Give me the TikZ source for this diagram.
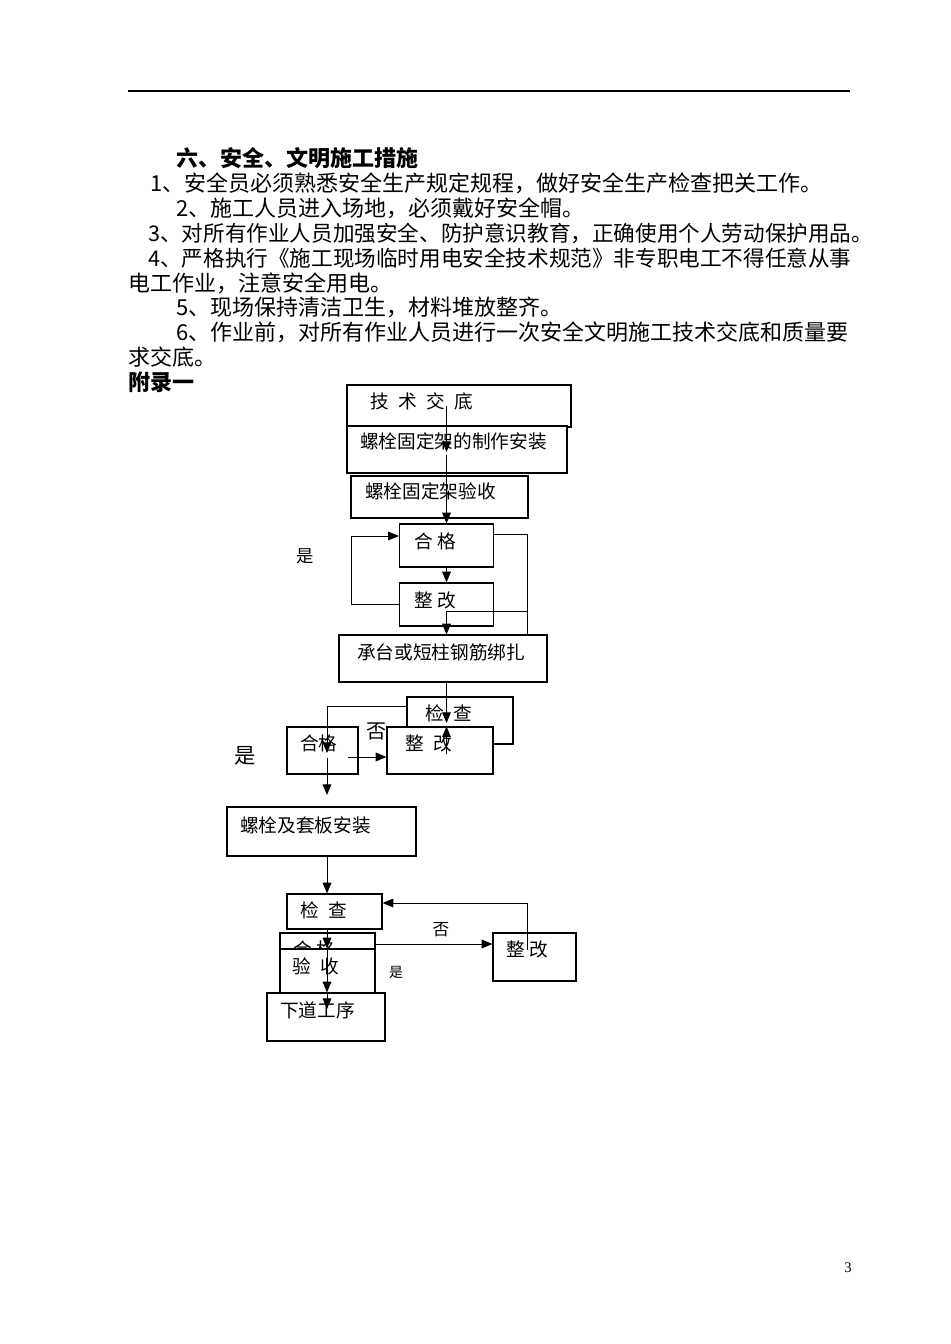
\documentclass[tikz,border=0pt]{standalone}
\usepackage{fontspec}
\setmainfont{Liberation Serif}
\newfontfamily\cjk{Noto Sans CJK SC}
\usetikzlibrary{arrows.meta}

\begin{document}
\begin{tikzpicture}[x=0.75pt,y=-0.75pt,
  box/.style={draw,line width=0.9pt,fill=white,inner sep=0pt},
  sz/.style 2 args={minimum width=#1*0.75pt,minimum height=#2*0.75pt},
  txt/.style={anchor=west,inner sep=0pt,font=\cjk\fontsize{14}{16}\selectfont},
  para/.style={anchor=west,inner sep=0pt,font=\cjk\fontsize{16.5}{18}\selectfont},
  lab/.style={inner sep=0pt,font=\cjk\fontsize{#1}{#1}\selectfont},
  arr/.style={line width=0.75pt,-{Triangle[length=8pt,width=6.5pt]}},
  ln/.style={line width=0.75pt}]

  \useasboundingbox[fill=white] (0,0) rectangle (950,1344);

  % header rule and text
  \draw[line width=1.1pt] (128,91) -- (850,91);
  \node[para] (title) at (176,158) {\bfseries 六、安全、文明施工措施};
  \node[para] (p1) at (150,183) {1、安全员必须熟悉安全生产规定规程，做好安全生产检查把关工作。};
  \node[para] (p2) at (176,208) {2、施工人员进入场地，必须戴好安全帽。};
  \node[para,font=\cjk\fontsize{16.2}{18}\selectfont] (p3) at (148,233) {3、对所有作业人员加强安全、防护意识教育，正确使用个人劳动保护用品。};
  \node[para,font=\cjk\fontsize{16.2}{18}\selectfont] (p4) at (148,258) {4、严格执行《施工现场临时用电安全技术规范》非专职电工不得任意从事};
  \node[para] (p4b) at (128,283) {电工作业，注意安全用电。};
  \node[para] (p5) at (176,307) {5、现场保持清洁卫生，材料堆放整齐。};
  \node[para] (p6) at (176,332) {6、作业前，对所有作业人员进行一次安全文明施工技术交底和质量要};
  \node[para] (p6b) at (128,357) {求交底。};
  \node[para] (fl) at (128,382) {\bfseries 附录一};

  % boxes
  \node[box,sz={224}{42}] (jsjd) at (459,406) {};
  \node[txt] (jsjdT) at (370,401) {技\enspace 术\enspace 交\enspace 底};
  \node[box,sz={220}{47}] (zzaz) at (457,449.5) {};
  \node[txt] (zzazT) at (360,441) {螺栓固定架的制作安装};
  \node[box,sz={177}{42}] (gdys) at (439.5,497) {};
  \node[txt] (gdysT) at (365,491) {螺栓固定架验收};
  \node[box,sz={94}{43}] (hg1) at (446.5,545.5) {};
  \node[txt] (hg1T) at (414,541) {合 格};
  \node[box,sz={94}{43}] (zg1) at (446.5,604.5) {};
  \node[txt] (zg1T) at (414,600) {整 改};
  \node[box,sz={208}{47}] (ct) at (443,658.5) {};
  \node[txt] (ctT) at (357,652) {承台或短柱钢筋绑扎};
  \node[box,sz={106}{47}] (jc2) at (460,720.5) {};
  \node[txt] (jc2T) at (425,713) {检\enspace 查};
  \node[box,sz={106}{47}] (zg2) at (440,750.5) {};
  \node[txt] (zg2T) at (405,743) {整\enspace 改};
  \node[box,sz={71}{47}] (hg2) at (322.5,750.5) {};
  \node[txt] (hg2T) at (300,743) {合格};
  \node[box,sz={189}{49}] (lsaz) at (321.5,831.5) {};
  \node[txt] (lsazT) at (240,825) {螺栓及套板安装};
  \node[box,sz={95}{35}] (jc3) at (334.5,911.5) {};
  \node[txt] (jc3T) at (300,910) {检\enspace 查};
  \node[box,sz={95}{47}] (hg3) at (327.5,956.5) {};
  \node[txt] (hg3T) at (293,949) {合 格};
  \node[box,sz={95}{44}] (ys) at (327.5,971) {};
  \node[txt] (ysT) at (292,966) {验\enspace 收};
  \node[box,sz={118}{48}] (xdgx) at (326,1017) {};
  \node[txt] (xdgxT) at (280,1010) {下道工序};
  \node[box,sz={83}{48}] (zg3) at (534.5,957) {};
  \node[txt] (zg3T) at (506,949) {整 改};

  % yes / no
  \node[lab=13] (shi1) at (305,556) {是};
  \node[lab=15] (fou1) at (376,731) {否};
  \node[lab=16] (shi2) at (245,756) {是};
  \node[lab=12.5] (fou2) at (441,930) {否};
  \node[lab=10.5] (shi3) at (396,972) {是};

  % connectors
  \coordinate (s0) at (446.5,406);
  \coordinate (s1) at (446.5,452);
  \coordinate (s2) at (446.5,455);
  \draw[arr] (s0) -- (s1);
  \draw[arr] (s2) -- (hg1.north);
  \draw[arr] (hg1.south) -- (zg1.north);
  \coordinate (lp) at (351,536);
  \draw[arr] (zg1.west) -| (lp) -- (lp -| hg1.west);
  \coordinate (rp) at (527,534);
  \draw[ln] (rp -| hg1.east) -- (rp) -- (rp |- ct.north);
  \coordinate (rq) at (527,611);
  \draw[arr] (rq) -- (rq -| hg1.south) -- (hg1.south |- ct.north);
  \coordinate (s3) at (446.5,723);
  \draw[arr] (ct.south -| s3) -- (s3);
  \coordinate (s4) at (446.5,754);
  \draw[arr] (s4) -- (s4 |- zg2.north);
  \coordinate (lq) at (327,706);
  \coordinate (s5) at (327,753);
  \draw[arr] (lq -| jc2.west) -- (lq) -- (s5);
  \coordinate (s6) at (348,757);
  \draw[arr] (s6) -- (s6 -| zg2.west);
  \coordinate (s7) at (327,758);
  \coordinate (s8) at (327,795);
  \draw[arr] (s7) -- (s8);
  \draw[arr] (lsaz.south -| s8) -- (s8 |- jc3.north);
  \draw[arr] (jc3.south -| s8) -- (s8 |- ys.north);
  \draw[arr] (s8 |- ys.north) -- (s8 |- xdgx.north);
  \coordinate (s9) at (327,1009);
  \draw[arr] (s8 |- xdgx.north) -- (s9);
  \coordinate (rr) at (375,944);
  \draw[arr] (rr -| hg3.east) -- (rr -| zg3.west);
  \coordinate (rs) at (527.5,950);
  \coordinate (rt) at (527.5,903);
  \draw[arr] (rs) -- (rt) -- (rt -| jc3.east);

  \node[inner sep=0pt,font=\fontsize{11}{13}\selectfont] (pgno) at (848,1268) {3};

\end{tikzpicture}
\end{document}
